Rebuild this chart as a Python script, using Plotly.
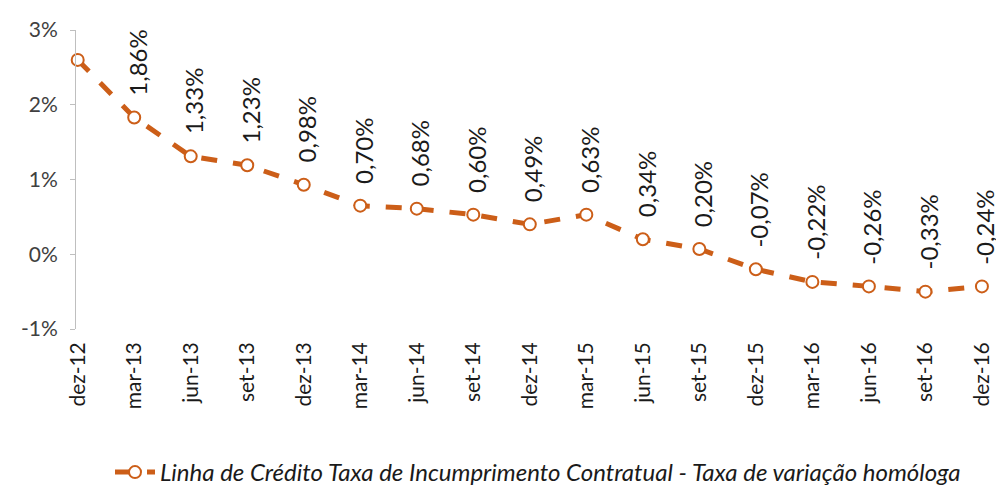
# Taxa de incumprimento contratual - variação homóloga
import plotly.graph_objects as go

periodos = ["dez-12", "mar-13", "jun-13", "set-13", "dez-13", "mar-14", "jun-14", "set-14",
            "dez-14", "mar-15", "jun-15", "set-15", "dez-15", "mar-16", "jun-16", "set-16", "dez-16"]
taxa = [2.60, 1.83, 1.31, 1.19, 0.93, 0.65, 0.61, 0.53,
        0.40, 0.53, 0.20, 0.07, -0.20, -0.37, -0.43, -0.50, -0.43]
rotulos = ["", "1,86%", "1,33%", "1,23%", "0,98%", "0,70%", "0,68%", "0,60%",
           "0,49%", "0,63%", "0,34%", "0,20%", "-0,07%", "-0,22%", "-0,26%", "-0,33%", "-0,24%"]
yticks = [-1, 0, 1, 2, 3]
yticklabels = ["-1%", "0%", "1%", "2%", "3%"]

laranja = "#CC5E18"
fonte = "Lato, 'Open Sans', sans-serif"
x = list(range(len(periodos)))

fig = go.Figure(go.Scatter(
    x=x, y=taxa, mode="lines+markers",
    name="<i>Linha de Crédito Taxa de Incumprimento Contratual - Taxa de variação homóloga</i>",
    line=dict(color=laranja, width=5, dash="16px,16px"),
    marker=dict(symbol="circle", size=12, color="white", line=dict(color=laranja, width=2)),
    cliponaxis=False,
))

# rótulos verticais acima dos pontos
for xi, yi, t in zip(x, taxa, rotulos):
    if t:
        fig.add_annotation(x=xi, y=yi, text=t, textangle=-90, showarrow=False,
                           xanchor="center", yanchor="bottom", xshift=3, yshift=20,
                           font=dict(family=fonte, size=24, color="#1a1a1a"))

# a página tem margem de 8px no body: compensar nas margens
fig.update_layout(
    width=996, height=490,
    margin=dict(l=68, r=4, t=22, b=168),
    paper_bgcolor="white", plot_bgcolor="white",
    font=dict(family=fonte, color="#404040"),
    showlegend=True,
    legend=dict(orientation="h", x=0.5, xanchor="center", y=-0.475, yanchor="middle",
                font=dict(size=24, color="#1a1a1a"), itemwidth=40),
)
fig.update_xaxes(
    range=[-0.03, 16.32], tickvals=x, ticktext=periodos, tickangle=-90,
    showgrid=False, zeroline=False, showline=False, ticklabelstandoff=8,
    tickfont=dict(size=21, color="#1a1a1a"),
)
fig.update_yaxes(
    range=[-1, 3], tickvals=yticks, ticktext=yticklabels,
    showgrid=False, zeroline=False, showline=True, linecolor="#bfbfbf", linewidth=1,
    ticks="outside", ticklen=5, tickcolor="#bfbfbf", ticklabelstandoff=8,
    tickfont=dict(size=21, color="#404040"),
)

fig.write_html("out.html")
